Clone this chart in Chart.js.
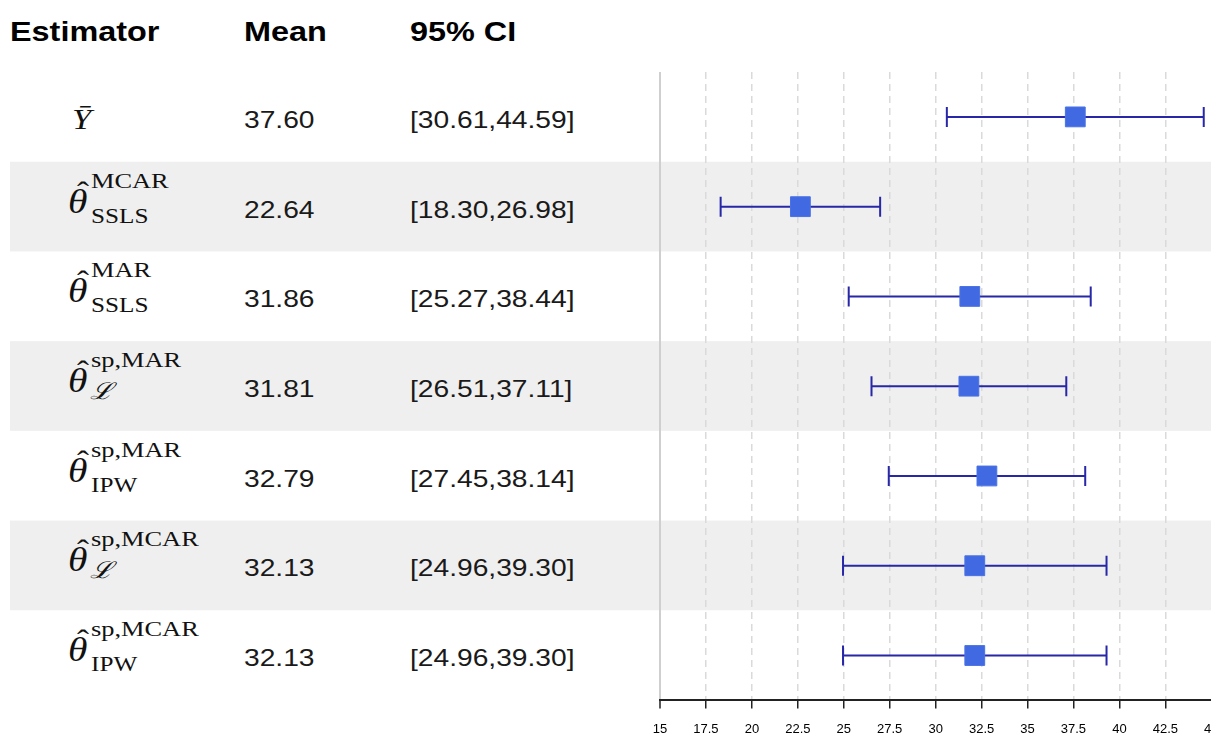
<!DOCTYPE html>
<html>
<head>
<meta charset="utf-8">
<script src="https://cdn.jsdelivr.net/npm/chart.js@4.4.1/dist/chart.umd.min.js"></script>
<style>
  html, body { margin: 0; padding: 0; background: #fff; width: 1211px; height: 734px; overflow: hidden; }
  #table { position: absolute; left: 0; top: 0; }
  #wrap { position: absolute; left: 639px; top: 72px; width: 593px; height: 679px; }
</style>
</head>
<body>
<svg id="table" width="1211" height="734" xmlns="http://www.w3.org/2000/svg"></svg>
<div id="wrap"><canvas id="forest"></canvas></div>
<script>
var headers = ['Estimator', 'Mean', '95% CI']
var estSymbol = ['Ȳ', 'θ', 'θ', 'θ', 'θ', 'θ', 'θ']
var estSup = ['', 'MCAR', 'MAR', 'sp,MAR', 'sp,MAR', 'sp,MCAR', 'sp,MCAR']
var estSub = ['', 'SSLS', 'SSLS', 'ℒ', 'IPW', 'ℒ', 'IPW']
var means = [37.60, 22.64, 31.86, 31.81, 32.79, 32.13, 32.13]
var lower = [30.61, 18.30, 25.27, 26.51, 27.45, 24.96, 24.96]
var upper = [44.59, 26.98, 38.44, 37.11, 38.14, 39.30, 39.30]
var xTicks = [15, 17.5, 20, 22.5, 25, 27.5, 30, 32.5, 35, 37.5, 40, 42.5, 45]

// table rows share the plot's vertical geometry (plot area 72 -> 700)
var rowTop = 72
var rowH = (700 - rowTop) / means.length
var stretch = 1.2
var SANS = "'Liberation Sans', Arial, sans-serif"
var SERIF = "'Liberation Serif', 'DejaVu Serif', serif"

var svg = document.getElementById('table')
var NS = 'http://www.w3.org/2000/svg'

function el(parent, tag, attrs, text) {
    var node = document.createElementNS(NS, tag)
    for (var k in attrs) node.setAttribute(k, attrs[k])
    if (text !== undefined) node.textContent = text
    parent.appendChild(node)
    return node
}

// zebra stripes
for (var i = 1; i < means.length; i += 2) {
    el(svg, 'rect', { x: 10, y: rowTop + i * rowH, width: 1201, height: rowH, fill: '#efefef' })
}

var g = el(svg, 'g', { transform: 'scale(' + stretch + ',1)' })
function put(str, x, y, size, family, extra) {
    var attrs = { x: x / stretch, y: y, 'font-size': size, 'font-family': family, fill: '#111' }
    for (var k in extra) attrs[k] = extra[k]
    return el(g, 'text', attrs, str)
}

var headerX = [10, 244, 410]
headers.forEach(function (h, i) {
    put(h, headerX[i], 41, 27, SANS, { 'font-weight': 'bold', fill: '#000' })
})

means.forEach(function (m, i) {
    var cy = rowTop + (i + 0.5) * rowH
    if (i === 0) {
        put(estSymbol[i], 72, cy + 12, 29, SERIF, { 'font-style': 'italic' })
    } else {
        put(estSymbol[i], 68, cy + 6, 33, SERIF, { 'font-style': 'italic' })
        put('ˆ', 83, cy - 5, 30, SERIF, { 'text-anchor': 'middle' })
        put(estSup[i], 91, cy - 19, 22, SERIF)
        if (estSub[i] === 'ℒ') {
            put(estSub[i], 90, cy + 13, 23, SERIF, { 'font-style': 'italic' })
        } else {
            put(estSub[i], 91, cy + 16, 21, SERIF)
        }
    }
    put(m.toFixed(2), 244, cy + 11, 23.5, SANS, { fill: '#1a1a1a' })
    put('[' + lower[i].toFixed(2) + ',' + upper[i].toFixed(2) + ']', 410, cy + 11, 23.5, SANS, { fill: '#1a1a1a' })
})

// forest plot
var ctx = document.getElementById('forest')
var datasets = [{
    type: 'scatter',
    data: means.map(function (m, i) { return { x: m, y: i + 1 } }),
    pointStyle: 'rect',
    pointRadius: 14,
    backgroundColor: '#4169e1',
    borderColor: '#4a72e6',
    borderWidth: 1
}]
lower.forEach(function (lo, i) {
    datasets.push({
        type: 'line',
        data: [{ x: lo, y: i + 1 }, { x: upper[i], y: i + 1 }],
        borderColor: '#2727a8',
        borderWidth: 2,
        fill: false,
        pointStyle: 'line',
        pointRotation: 90,
        pointRadius: 10,
        pointBorderWidth: 2,
        pointBorderColor: '#2727a8'
    })
})

var forest = new Chart(ctx, {
    type: 'scatter',
    data: { datasets: datasets },
    options: {
        responsive: true,
        maintainAspectRatio: false,
        animation: false,
        events: [],
        layout: { autoPadding: false, padding: { left: 21, right: 0, top: 0, bottom: 0 } },
        plugins: { legend: { display: false }, tooltip: { enabled: false } },
        scales: {
            x: {
                type: 'linear',
                min: 15,
                max: 45,
                afterBuildTicks: function (axis) {
                    axis.ticks = xTicks.map(function (v) { return { value: v } })
                },
                ticks: {
                    autoSkip: false,
                    maxRotation: 0,
                    padding: 13.5,
                    color: '#000',
                    font: { family: SANS, size: 13 },
                    callback: function (v) { return String(v) }
                },
                grid: {
                    color: function (c) { return c.tick && c.tick.value === 15 ? '#cfcfcf' : '#dadada' },
                    lineWidth: function (c) { return c.tick && c.tick.value === 15 ? 2 : 1.5 },
                    tickColor: '#222',
                    tickLength: 8,
                    tickWidth: 1.5
                },
                border: {
                    color: '#222',
                    width: 2,
                    dash: function (c) { return c.tick && c.tick.value === 15 ? [] : [7, 5] }
                }
            },
            y: { type: 'linear', min: 0.5, max: 7.5, reverse: true, display: false }
        }
    }
})
</script>
</body>
</html>
